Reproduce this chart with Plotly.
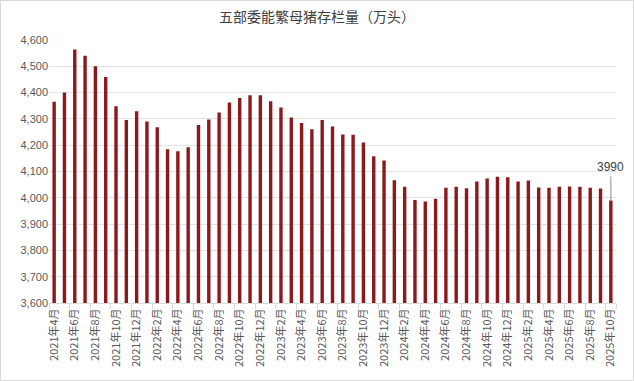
import plotly.graph_objects as go

months = []
for y in range(2021, 2026):
    for m in range(1, 13):
        if (y == 2021 and m < 4) or (y == 2025 and m > 10):
            continue
        months.append(f"{y}年{m}月")

values = [4365, 4400, 4564, 4540, 4500, 4459, 4348, 4296, 4329,
          4290, 4268, 4185, 4177, 4192, 4277, 4298, 4324, 4362, 4379, 4390, 4390,
          4367, 4343, 4305, 4284, 4261, 4296, 4271, 4241, 4240, 4210, 4158, 4142,
          4067, 4042, 3992, 3986, 3996, 4038, 4042, 4036, 4062, 4073, 4080, 4078,
          4062, 4066, 4039, 4038, 4042, 4043, 4042, 4038, 4035, 3990]

title_text = "五部委能繁母猪存栏量（万头）"
last_label = "3990"

W, H = 634, 381
ml, mr, mt, mb = 49, 18, 40, 78

fig = go.Figure()
fig.add_trace(go.Bar(x=months, y=values, marker_color="#8B1A1F",
                     marker_line_width=0, hoverinfo="x+y"))

fig.add_annotation(x=months[-1], y=values[-1], text=last_label,
                   showarrow=True, arrowhead=0, arrowwidth=1, arrowcolor="#8c8c8c",
                   ax=0, ay=-24, font=dict(size=12, color="#404040",
                                           family="Liberation Sans, Arial, sans-serif"),
                   yanchor="bottom")

pw, ph = W - ml - mr, H - mt - mb
fig.add_shape(type="rect", xref="paper", yref="paper",
              x0=(0.5 - ml) / pw, x1=(W - 0.5 - ml) / pw,
              y0=-(mb - 0.5) / ph, y1=(H - mb - 0.5) / ph,
              line=dict(color="#d9d9d9", width=1), layer="below")

fig.update_layout(
    width=W, height=H,
    margin=dict(l=ml, r=mr, t=mt, b=mb, autoexpand=False),
    paper_bgcolor="white", plot_bgcolor="white",
    bargap=0.67,
    showlegend=False,
    title=dict(text=title_text, x=0.5, xref="container", xanchor="center",
               y=1 - 17 / H, yanchor="middle",
               font=dict(size=14, color="#404040", family="Noto Sans CJK SC")),
    xaxis=dict(type="category", tickmode="array", automargin=False,
               range=[-0.5, len(months) - 0.5],
               tickvals=months[::2], ticktext=months[::2],
               tickangle=-90, tickson="boundaries",
               ticks="outside", ticklen=5, tickcolor="#d9d9d9",
               showline=True, linecolor="#d9d9d9", linewidth=1,
               showgrid=False,
               tickfont=dict(size=11, color="#595959", family="Noto Sans CJK SC")),
    yaxis=dict(range=[3600, 4600], dtick=100, tickformat=",", automargin=False,
               showgrid=True, gridcolor="#e3e3e3", gridwidth=1,
               zeroline=False, showline=False, ticks="",
               tickfont=dict(size=11, color="#595959",
                             family="Liberation Sans, Arial, sans-serif")),
)

fig.write_html("out.html", config={"displayModeBar": False},
               post_script="document.body.style.margin='0';document.body.style.overflow='hidden';")
